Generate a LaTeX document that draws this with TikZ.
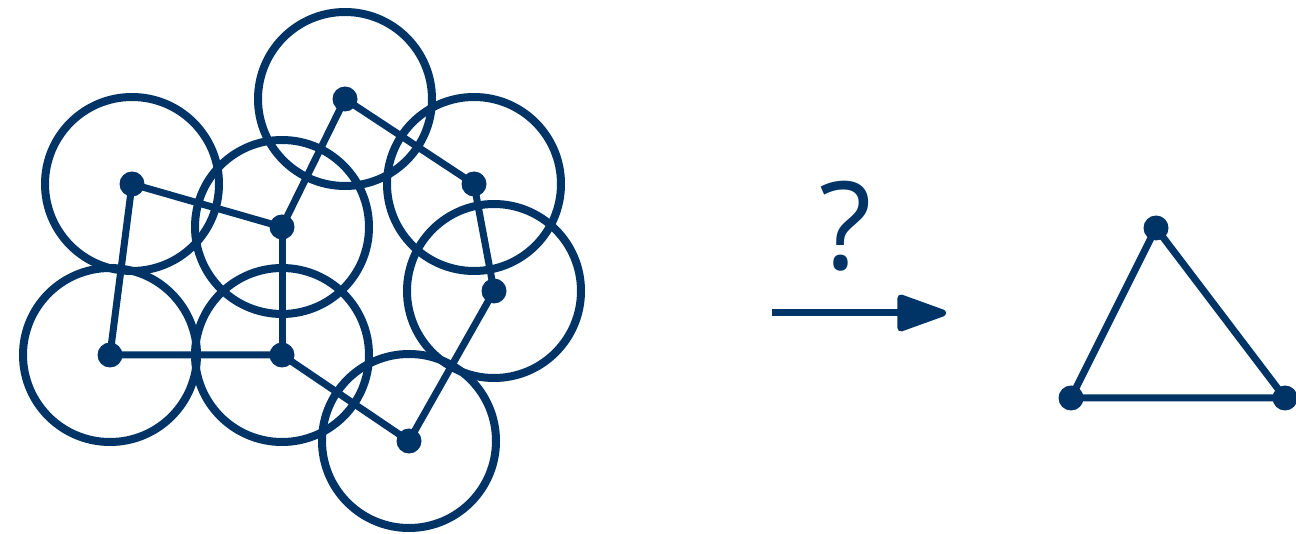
\documentclass[tikz,border=0pt]{standalone}
\usepackage{fontspec}
\setmainfont{Open Sans}
\usetikzlibrary{arrows.meta}
\definecolor{navy}{RGB}{0,52,102}
\begin{document}
\begin{tikzpicture}[x=1pt,y=-1pt,
  dot/.style={circle,fill=navy,inner sep=0pt,minimum size=25pt},
  edge/.style={draw=navy,line width=7pt},
  ring/.style={draw=navy,line width=8pt}]
\useasboundingbox (0,0) rectangle (1296,534);
\coordinate (A) at (132,184);
\coordinate (B) at (282,227);
\coordinate (C) at (345,99);
\coordinate (D) at (474,184);
\coordinate (E) at (494,291);
\coordinate (F) at (409,441);
\coordinate (G) at (282,355);
\coordinate (H) at (110,355);
\foreach \p in {A,B,C,D,E,F,G,H} \draw[ring] (\p) circle (87pt);
\draw[edge] (H) -- (A) -- (B) -- (C) -- (D) -- (E) -- (F) -- (G) -- (H);
\draw[edge] (G) -- (B);
\foreach \p in {A,B,C,D,E,F,G,H} \node[dot] (n\p) at (\p) {};
\node[text=navy,font=\fontsize{122}{122}\selectfont,anchor=base] (q) at (846,270) {?};
\coordinate (s) at (772,313);
\coordinate (t) at (946,313);
\draw[edge,-{Triangle[length=56pt,width=38pt,round]}] (s) -- (t);
\node[dot] (T1) at (1156,228) {};
\node[dot] (T2) at (1071,398) {};
\node[dot] (T3) at (1285,398) {};
\draw[edge] (T1.center) -- (T2.center) -- (T3.center) -- cycle;
\end{tikzpicture}
\end{document}
